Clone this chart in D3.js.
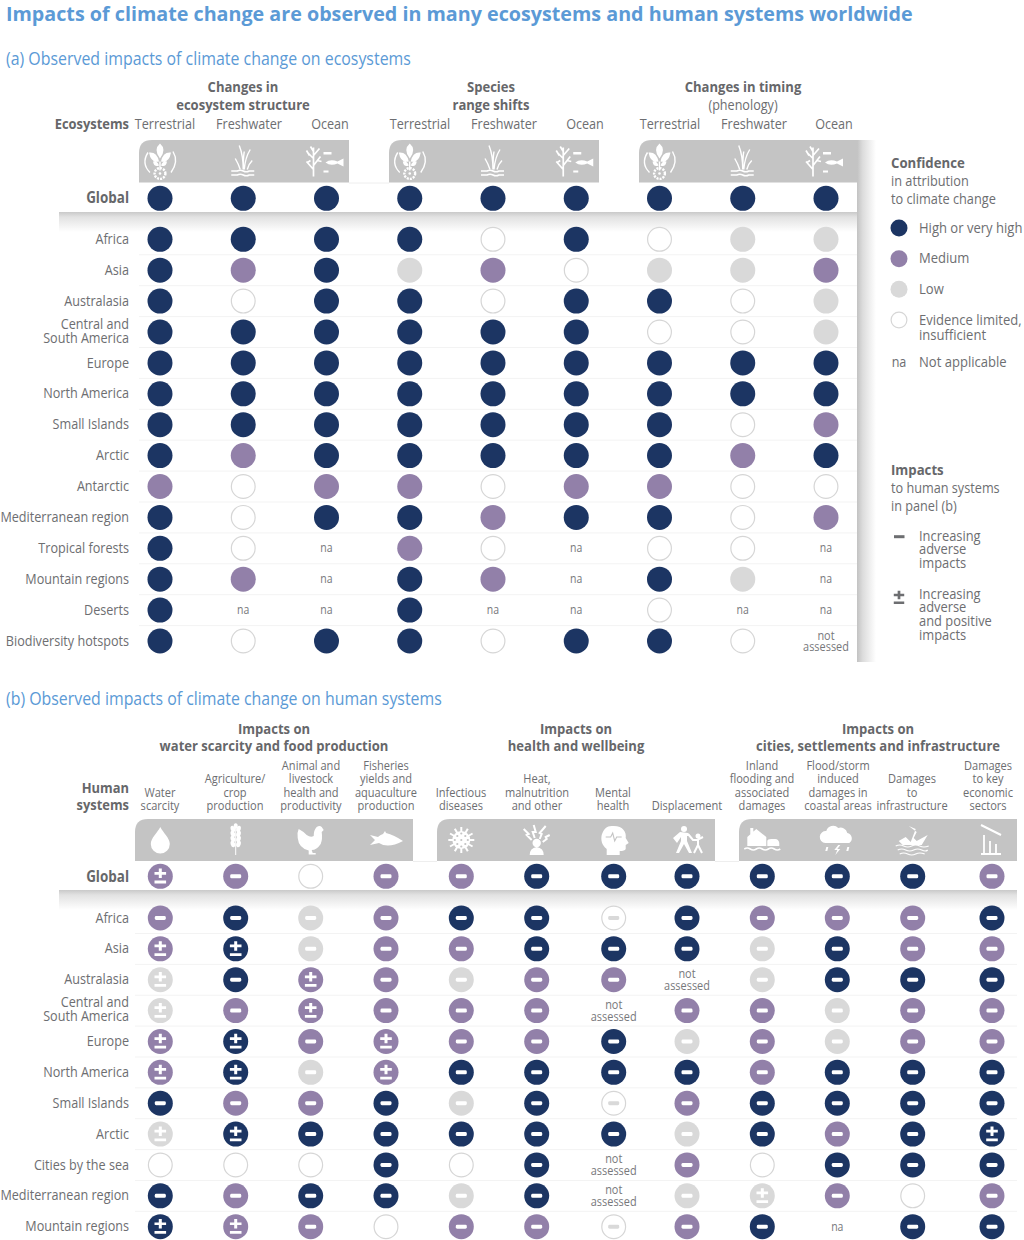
<!DOCTYPE html>
<html><head><meta charset="utf-8">
<script src="https://cdn.jsdelivr.net/npm/d3@7/dist/d3.min.js"></script>
<style>html,body{margin:0;padding:0;background:#fff}svg{display:block}text{font-family:"Open Sans",sans-serif}</style>
</head><body><svg id="c" width="1024" height="1240"></svg>
<script>
// ---------- DATA ----------
// H high, M medium, L low, E evidence limited, na not applicable, nas not assessed
// suffix - increasing adverse, + adverse and positive
const ecoGroups = [["Changes in","ecosystem structure"],["Species","range shifts"],["Changes in timing","(phenology)"]];
const ecoCols = ["Terrestrial","Freshwater","Ocean","Terrestrial","Freshwater","Ocean","Terrestrial","Freshwater","Ocean"];
const ecoRowNames = ["Africa","Asia","Australasia","Central and|South America","Europe","North America","Small Islands","Arctic","Antarctic","Mediterranean region","Tropical forests","Mountain regions","Deserts","Biodiversity hotspots"];
const ecoGlobal = ["H","H","H","H","H","H","H","H","H"];
const ecoValues = [
 ["H","H","H","H","E","H","E","L","L"],
 ["H","M","H","L","M","E","L","L","M"],
 ["H","E","H","H","E","H","H","E","L"],
 ["H","H","H","H","H","H","E","E","L"],
 ["H","H","H","H","H","H","H","H","H"],
 ["H","H","H","H","H","H","H","H","H"],
 ["H","H","H","H","H","H","H","E","M"],
 ["H","M","H","H","H","H","H","M","H"],
 ["M","E","M","M","E","M","M","E","E"],
 ["H","E","H","H","M","H","H","E","M"],
 ["H","E","na","M","E","na","E","E","na"],
 ["H","M","na","H","M","na","H","L","na"],
 ["H","na","na","H","na","na","E","na","na"],
 ["H","E","H","H","E","H","H","E","nas"]];
const humGroups = [["Impacts on","water scarcity and food production"],["Impacts on","health and wellbeing"],["Impacts on","cities, settlements and infrastructure"]];
const humCols = ["Water|scarcity","Agriculture/|crop|production","Animal and|livestock|health and|productivity","Fisheries|yields and|aquaculture|production","Infectious|diseases","Heat,|malnutrition|and other","Mental|health","Displacement","Inland|flooding and|associated|damages","Flood/storm|induced|damages in|coastal areas","Damages|to|infrastructure","Damages|to key|economic|sectors"];
const humRowNames = ["Africa","Asia","Australasia","Central and|South America","Europe","North America","Small Islands","Arctic","Cities by the sea","Mediterranean region","Mountain regions"];
const humGlobal = ["M+","M-","E","M-","M-","H-","H-","H-","H-","H-","H-","M-"];
const humValues = [
 ["M-","H-","L-","M-","H-","H-","E-","H-","M-","M-","M-","H-"],
 ["M+","H+","L-","M-","M-","H-","H-","H-","L-","H-","M-","M-"],
 ["L+","H-","M+","M-","L-","M-","M-","nas","L-","H-","H-","H-"],
 ["L+","M-","M+","M-","M-","M-","nas","M-","M-","L-","M-","M-"],
 ["M+","H+","M-","M+","M-","M-","H-","L-","M-","L-","M-","M-"],
 ["M+","H+","L-","M+","H-","H-","H-","H-","M-","H-","H-","H-"],
 ["H-","M-","M-","H-","L-","H-","E-","M-","H-","H-","H-","H-"],
 ["L+","H+","H-","H-","H-","H-","H-","L-","H-","M-","H-","H+"],
 ["E","E","E","H-","E","H-","nas","M-","E","H-","H-","H-"],
 ["H-","M-","H-","H-","L-","H-","nas","L-","L+","M-","E","M-"],
 ["H+","M+","M-","E","M-","M-","E-","M-","H-","na","H-","H-"]];
const legendConf = [["H","High or very high"],["M","Medium"],["L","Low"],["E","Evidence limited,|insufficient"]];
const legendImpact = [["-","Increasing|adverse|impacts"],["+","Increasing|adverse|and positive|impacts"]];

// ---------- STYLE ----------
const TXT="#6d6e71", BOLD="#66676a", BLUE="#5b9ad6";
const fillOf={H:"#1c3563",M:"#9280a9",L:"#d9d9d9",E:"#fff"};
const svg=d3.select("#c");
const defs=svg.append("defs");
function grad(id,x2,y2,stops){const g=defs.append("linearGradient").attr("id",id).attr("x1",0).attr("y1",0).attr("x2",x2).attr("y2",y2);
 stops.forEach(s=>g.append("stop").attr("offset",s[0]).attr("stop-color",s[1]));}
grad("sv",0,1,[[0,"#c9c9c9"],[.25,"#e2e2e2"],[1,"#fff"]]);
grad("sh",1,0,[[0,"#c2c2c2"],[.3,"#dcdcdc"],[1,"#fff"]]);

// one text element; "|" separates lines, y is the first baseline
function label(g,t,x,y,o={}){
 const el=g.append("text").attr("text-anchor",o.a||"middle").attr("font-size",o.s||14).attr("font-weight",o.b?700:400).attr("fill",o.c||(o.b?BOLD:TXT));
 const L=t.split("|");
 if(L.length===1) el.text(t);
 else L.forEach((s,i)=>el.append("tspan").attr("x",0).attr("dy",i?(o.lh||14):0).text(s));
 let sx=o.sx||.87;
 if(o.w) sx=o.w/el.node().getComputedTextLength();
 el.attr("transform",`translate(${x},${y}) scale(${sx},1)`);
 return el;
}
function dot(g,x,y,code,r=12.5){
 if(code==="na"){label(g,"na",x,y+4,{s:12.5,c:"#77787b",sx:.84});return;}
 if(code==="nas"){label(g,"not|assessed",x,y-1.5,{s:13,c:"#77787b",lh:11.6,sx:.84});return;}
 const k=code[0],sign=code[1];
 g.append("circle").attr("cx",x).attr("cy",y).attr("r",k==="E"?r-.6:r).attr("fill",fillOf[k]).attr("stroke",k==="E"?"#d6d6d6":"none").attr("stroke-width",1.2);
 const c=k==="E"?"#d9d9d9":"#fff";
 if(sign==="-") g.append("rect").attr("x",x-5.5).attr("y",y-2).attr("width",11).attr("height",4).attr("rx",1.4).attr("fill",c);
 if(sign==="+") plusMinus(g,x,y+.3,c,1);
}
function plusMinus(g,x,y,c,s){
 g.append("path").attr("fill",c).attr("transform",`translate(${x},${y}) scale(${s})`)
  .attr("d","M-1.5-8H1.5V-4.6H5.8V-1.9H1.5V1.5H-1.5V-1.9H-5.8V-4.6H-1.5ZM-5.8 4H5.8V6.8H-5.8Z");
}
function band(g,x0,x1,y0,y1,r){
 g.append("path").attr("fill","#c4c4c4").attr("d",`M${x0} ${y1}V${y0+r}Q${x0} ${y0} ${x0+r} ${y0}H${x1}V${y1}Z`);
}

// ---------- ICONS (white, centred on 0,0) ----------
const ic={
 plant(g){
  g.append("path").attr("fill","none").attr("stroke","#fff").attr("stroke-width",1.4).attr("d","M-12-9Q-19 2-10 11M13-10Q19 0 11 11M0 0V9");
  g.append("path").attr("fill","#fff").attr("d","M0-18Q7-12 0-3Q-7-12 0-18ZM-11-9Q-3-10-1 0Q-9 2-11-9ZM11-9Q3-10 1 0Q9 2 11-9ZM-7 0Q-3-1-1 4Q-6 6-7 0ZM7 0Q3-1 1 4Q6 6 7 0Z");
  g.append("circle").attr("cy",12).attr("r",5.4).attr("fill","none").attr("stroke","#fff").attr("stroke-width",2.4).attr("stroke-dasharray","2 1.1");
  g.append("circle").attr("cy",12).attr("r",1.3).attr("fill","#fff");
 },
 reed(g){
  g.append("path").attr("fill","none").attr("stroke","#fff").attr("stroke-width",1.4).attr("d","M0 8Q0-6-4-16M1 8Q2-4 7-12M-3 8Q-5 2-8-3M4 8Q5 3 9-1M0 8Q0-4 1-10");
  g.append("path").attr("fill","none").attr("stroke","#fff").attr("stroke-width",1.6).attr("d","M-12 9.5H-6Q-3 8 0 9.5T6 9.5H11M-12 13.5H-6Q-3 12 0 13.5T6 13.5H11");
 },
 coral(g){
  g.append("path").attr("fill","none").attr("stroke","#fff").attr("stroke-width",1.7).attr("d","M-13 15V-14M-13 8L-20 0M-13 4L-6-5M-13-3L-19-9M-13-6L-7-13M-17-6L-20-11M-9-1L-5 0M-16-1L-19 1M-13-10L-16-15");
  g.append("path").attr("fill","#fff").attr("d","M-3-9.500H5V-7H-3ZM-3 9H2V11H-3ZM-1 1Q4-3 11 0L17-3V5L11 2Q4 5-1 1Z");
 },
 drop(g){g.append("path").attr("fill","#fff").attr("d","M0-13C3-7 9.500 -2 9.500 4A9.500 9.500 0 0 1-9.500 4C-9.500-2-3-7 0-13Z");},
 wheat(g){
  g.append("path").attr("stroke","#fff").attr("stroke-width",1).attr("d","M0-13V15");
  [-11,-6,-1,4].forEach(y=>{
   g.append("ellipse").attr("cx",-2.800).attr("cy",y).attr("rx",2.200).attr("ry",3.300).attr("fill","#fff").attr("transform",`rotate(-18 -2.8 ${y})`);
   g.append("ellipse").attr("cx",2.800).attr("cy",y).attr("rx",2.200).attr("ry",3.300).attr("fill","#fff").attr("transform",`rotate(18 2.8 ${y})`);
  });
  g.append("ellipse").attr("cy",-14).attr("rx",2).attr("ry",2.800).attr("fill","#fff");
 },
 hen(g){
  g.append("path").attr("fill","#fff").attr("d","M-12-11Q-8-9-4-5Q0-2 3-4Q3-10 6-13Q9-15 11-13L13-10L11-8Q12-1 10 4Q6 10 1 10L2 13H5V14.500H-2L-2 10.500Q-12 8-13-2Q-14-7-12-11Z");
 },
 fish(g){g.append("path").attr("fill","#fff").attr("d","M-16-5L-11 0L-16 5L-7 3Q2 9 17 1Q8-5 0-7L-1-9L-3-6Q-6-5-8-3Z");},
 virus(g){
  g.append("circle").attr("r",9).attr("fill","#fff");
  d3.range(12).forEach(i=>{const a=i*Math.PI/6;
   g.append("line").attr("x2",13*Math.cos(a)).attr("y2",13*Math.sin(a)).attr("stroke","#fff").attr("stroke-width",2);});
  [[-4,-4],[4,-4],[-4,4],[4,4],[0,0],[0,-6.500],[0,6.500],[-6.500,0],[6.500,0]].forEach(p=>g.append("circle").attr("cx",p[0]).attr("cy",p[1]).attr("r",1.100).attr("fill","#c4c4c4"));
 },
 heat(g){
  g.append("circle").attr("cy",3).attr("r",4.200).attr("fill","#fff");
  g.append("path").attr("fill","#fff").attr("d","M-7 15Q-7 8 0 7Q7 8 7 15Z");
  g.append("path").attr("fill","none").attr("stroke","#fff").attr("stroke-width",2).attr("d","M-2-2L-4-8L-1-8L-3-15M3-1L5-6L3-7L9-14M-5 0L-10-5L-8-6L-13-11M6 2L10-1L9-3L13-5");
 },
 head(g){
  g.append("path").attr("fill","#fff").attr("d","M-2-14C9-15 13-8 12-2L15 3L12 5V9Q11 11 6 11V15H-7V9C-12 5-13 0-12-5C-10-11-7-14-2-14Z");
  g.append("path").attr("fill","none").attr("stroke","#c4c4c4").attr("stroke-width",1.100).attr("d","M-8-3H-3L-1-7L1 1L3-3H8");
 },
 people(g){
  g.append("circle").attr("cx",-3).attr("cy",-11).attr("r",3).attr("fill","#fff");
  g.append("circle").attr("cx",11).attr("cy",-4).attr("r",2.500).attr("fill","#fff");
  g.append("path").attr("fill","#fff").attr("d","M-14-2L-7-8L1-7L3-4L0-4L0 1L5 13H2L-3 4L-8 13H-11L-6 1L-6-3L-10 3Z");
  g.append("path").attr("fill","none").attr("stroke","#fff").attr("stroke-width",2).attr("d","M1-6L6 0H10L16-3M11 0V5L7 13M11 5L15 13");
 },
 house(g){
  g.append("path").attr("fill","#fff").attr("d","M-15 6V-3L-6-11L4-3V6ZM-12-12H-9V-7L-12-4Z");
  g.append("path").attr("fill","#fff").attr("d","M5 6V1Q5-1 9-1H13Q16-1 17 3V6Z");
  g.append("path").attr("fill","none").attr("stroke","#fff").attr("stroke-width",1.600).attr("d","M-18 9Q-15 7-12 9T-6 9T0 9T6 9T12 9T18 9");
 },
 cloud(g){
  g.append("path").attr("fill","#fff").attr("d","M-12 3A6 6 0 0 1-11-9A7 7 0 0 1 1-12A7 7 0 0 1 10-7A5.500 5.500 0 0 1 12 3Z");
  g.append("path").attr("fill","#fff").attr("d","M1 5L-3 10H0L-2 15L3 9H0L3 5ZM-11 7L-9 7L-10 11L-12 11ZM10 7L12 7L11 11L9 11Z");
 },
 wreck(g){
  g.append("path").attr("fill","#fff").attr("d","M-14 1L-7-3L-2 2L3-11L-4-14L4-8L1-2L4 1L15-5L9 5H-10Z");
  g.append("path").attr("fill","none").attr("stroke","#fff").attr("stroke-width",1.200).attr("d","M-17 6Q-13 4-9 6T-1 6T7 6T16 6M-15 10Q-11 8-7 10T1 10T9 10T15 10M-13 14Q-9 12-5 14T3 14T12 14");
 },
 bars(g){
  g.append("path").attr("fill","none").attr("stroke","#fff").attr("stroke-width",2).attr("d","M-10-15L10-5");
  g.append("path").attr("fill","none").attr("stroke","#fff").attr("stroke-width",1.800).attr("d","M-10 14H10M-7 14V-5M-1 14V1M5 14V4");
 }
};
const ecoIcons=["plant","reed","coral","plant","reed","coral","plant","reed","coral"];
const humIcons=["drop","wheat","hen","fish","virus","heat","head","people","house","cloud","wreck","bars"];
function icon(g,name,x,y){const t=g.append("g").attr("transform",`translate(${x},${y})`);ic[name](t);}

// ---------- TITLES ----------
label(svg,"Impacts of climate change are observed in many ecosystems and human systems worldwide",6,21.2,{a:"start",s:19.8,b:1,c:BLUE,w:906});
label(svg,"(a) Observed impacts of climate change on ecosystems",6,65,{a:"start",s:18.5,c:BLUE,w:405});
label(svg,"(b) Observed impacts of climate change on human systems",6,705,{a:"start",s:18.5,c:BLUE,w:436});

// ---------- PANEL A ----------
const A=svg.append("g");
const ax=d3.scalePoint().domain(d3.range(9)).range([160,826]);
const ay=d3.scalePoint().domain(ecoRowNames).range([239.3,641]);
const aGlobalY=198.3;
A.append("rect").attr("x",857).attr("y",140).attr("width",19).attr("height",522).attr("fill","url(#sh)");
[[139,349],[389,599],[639,857]].forEach(b=>band(A,b[0],b[1],140,182.500,13));
A.append("rect").attr("x",59).attr("y",212).attr("width",798).attr("height",20).attr("fill","url(#sv)");
A.append("line").attr("x1",349).attr("x2",389).attr("y1",183).attr("y2",183).attr("stroke","#eee");
ecoRowNames.slice(0,-1).forEach(r=>A.append("line").attr("x1",139).attr("x2",857).attr("y1",ay(r)+15.500).attr("y2",ay(r)+15.500).attr("stroke","#f3f3f3"));
const aGroupX=[243,491,743];
ecoGroups.forEach((g,i)=>{
 label(A,g[0],aGroupX[i],92,{s:14.500,b:1,sx:.9});
 label(A,g[1],aGroupX[i],109.500,{s:14.500,b:i<2,sx:i<2?.9:.87});
});
const aColX=[165,249,330,420,504,585,670,754,834];
ecoCols.forEach((c,i)=>label(A,c,aColX[i],129,{s:14.500}));
label(A,"Ecosystems",129,129,{a:"end",s:14.500,b:1,sx:.89});
ecoIcons.forEach((n,i)=>icon(A,n,ax(i),161.500));
label(A,"Global",129,203,{a:"end",s:16,b:1,sx:.84});
ecoGlobal.forEach((v,i)=>dot(A,ax(i),aGlobalY,v));
ecoRowNames.forEach((r,j)=>{
 const two=r.includes("|");
 label(A,r,129,ay(r)+(two?-3.5:4.6),{a:"end",s:14.500,lh:14});
 ecoValues[j].forEach((v,i)=>dot(A,ax(i),ay(r),v));
});

// ---------- LEGEND ----------
const Lg=svg.append("g");
label(Lg,"Confidence",891,168,{a:"start",s:15,b:1,sx:.88});
label(Lg,"in attribution|to climate change",891,186,{a:"start",s:14.500,lh:18,sx:.88});
const lgY=d3.scalePoint().domain(legendConf.map(d=>d[0])).range([228,320]);
legendConf.forEach(d=>{
 dot(Lg,899,lgY(d[0]),d[0],8.500);
 label(Lg,d[1],919,lgY(d[0])+4.500,{a:"start",s:15,lh:15});
});
label(Lg,"na",899,367,{s:14.500});
label(Lg,"Not applicable",919,367,{a:"start",s:15});
label(Lg,"Impacts",891,475,{a:"start",s:15,b:1,sx:.88});
label(Lg,"to human systems|in panel (b)",891,493,{a:"start",s:14.500,lh:18,sx:.875});
const impY=[536.700,598];
const impText=[540.500,598.500];
legendImpact.forEach((d,k)=>{
 if(d[0]==="-") Lg.append("rect").attr("x",894).attr("y",impY[k]-1.5).attr("width",10.500).attr("height",3).attr("fill",TXT);
 else plusMinus(Lg,899,impY[k],TXT,.9);
 label(Lg,d[1],919,impText[k],{a:"start",s:15,lh:13.700,sx:.86});
});

// ---------- PANEL B ----------
const B=svg.append("g");
const bx=d3.scaleOrdinal().domain(d3.range(12)).range([160.300,235.700,310.700,386,461.300,536.700,613.700,687,762.300,837.300,912.700,992]);
const by=d3.scalePoint().domain(humRowNames).range([918,1226.700]);
const bGlobalY=876.300;
[[135,413],[437,715],[739,1017]].forEach(b=>band(B,b[0],b[1],819,861,13));
B.append("rect").attr("x",59).attr("y",890).attr("width",958).attr("height",20).attr("fill","url(#sv)");
[[413,437],[715,739]].forEach(s=>B.append("line").attr("x1",s[0]).attr("x2",s[1]).attr("y1",861.500).attr("y2",861.500).attr("stroke","#eee"));
humRowNames.slice(0,-1).forEach(r=>B.append("line").attr("x1",135).attr("x2",1017).attr("y1",by(r)+15.500).attr("y2",by(r)+15.500).attr("stroke","#f3f3f3"));
const bGroupX=[274,576,878];
humGroups.forEach((g,i)=>{label(B,g[0],bGroupX[i],734,{s:14.500,b:1,sx:.9});label(B,g[1],bGroupX[i],751,{s:14.500,b:1,sx:.9});});
const bColX=[160,235,311,386,461,537,613,687,762,838,912,988];
const colLH=13.6;
humCols.forEach((c,i)=>label(B,c,bColX[i],810.300-(c.split("|").length-1)*colLH,{s:13.500,lh:colLH,sx:.82}));
label(B,"Human|systems",129,793,{a:"end",s:14.500,b:1,lh:17,sx:.89});
humIcons.forEach((n,i)=>icon(B,n,i===11?991:bx(i),840));
label(B,"Global",129,881.500,{a:"end",s:16,b:1,sx:.84});
humGlobal.forEach((v,i)=>dot(B,bx(i),bGlobalY,v));
humRowNames.forEach((r,j)=>{
 const two=r.includes("|");
 label(B,r,129,by(r)+(two?-3.5:4.6),{a:"end",s:14.500,lh:14});
 humValues[j].forEach((v,i)=>dot(B,bx(i),by(r),v));
});
</script></body></html>
